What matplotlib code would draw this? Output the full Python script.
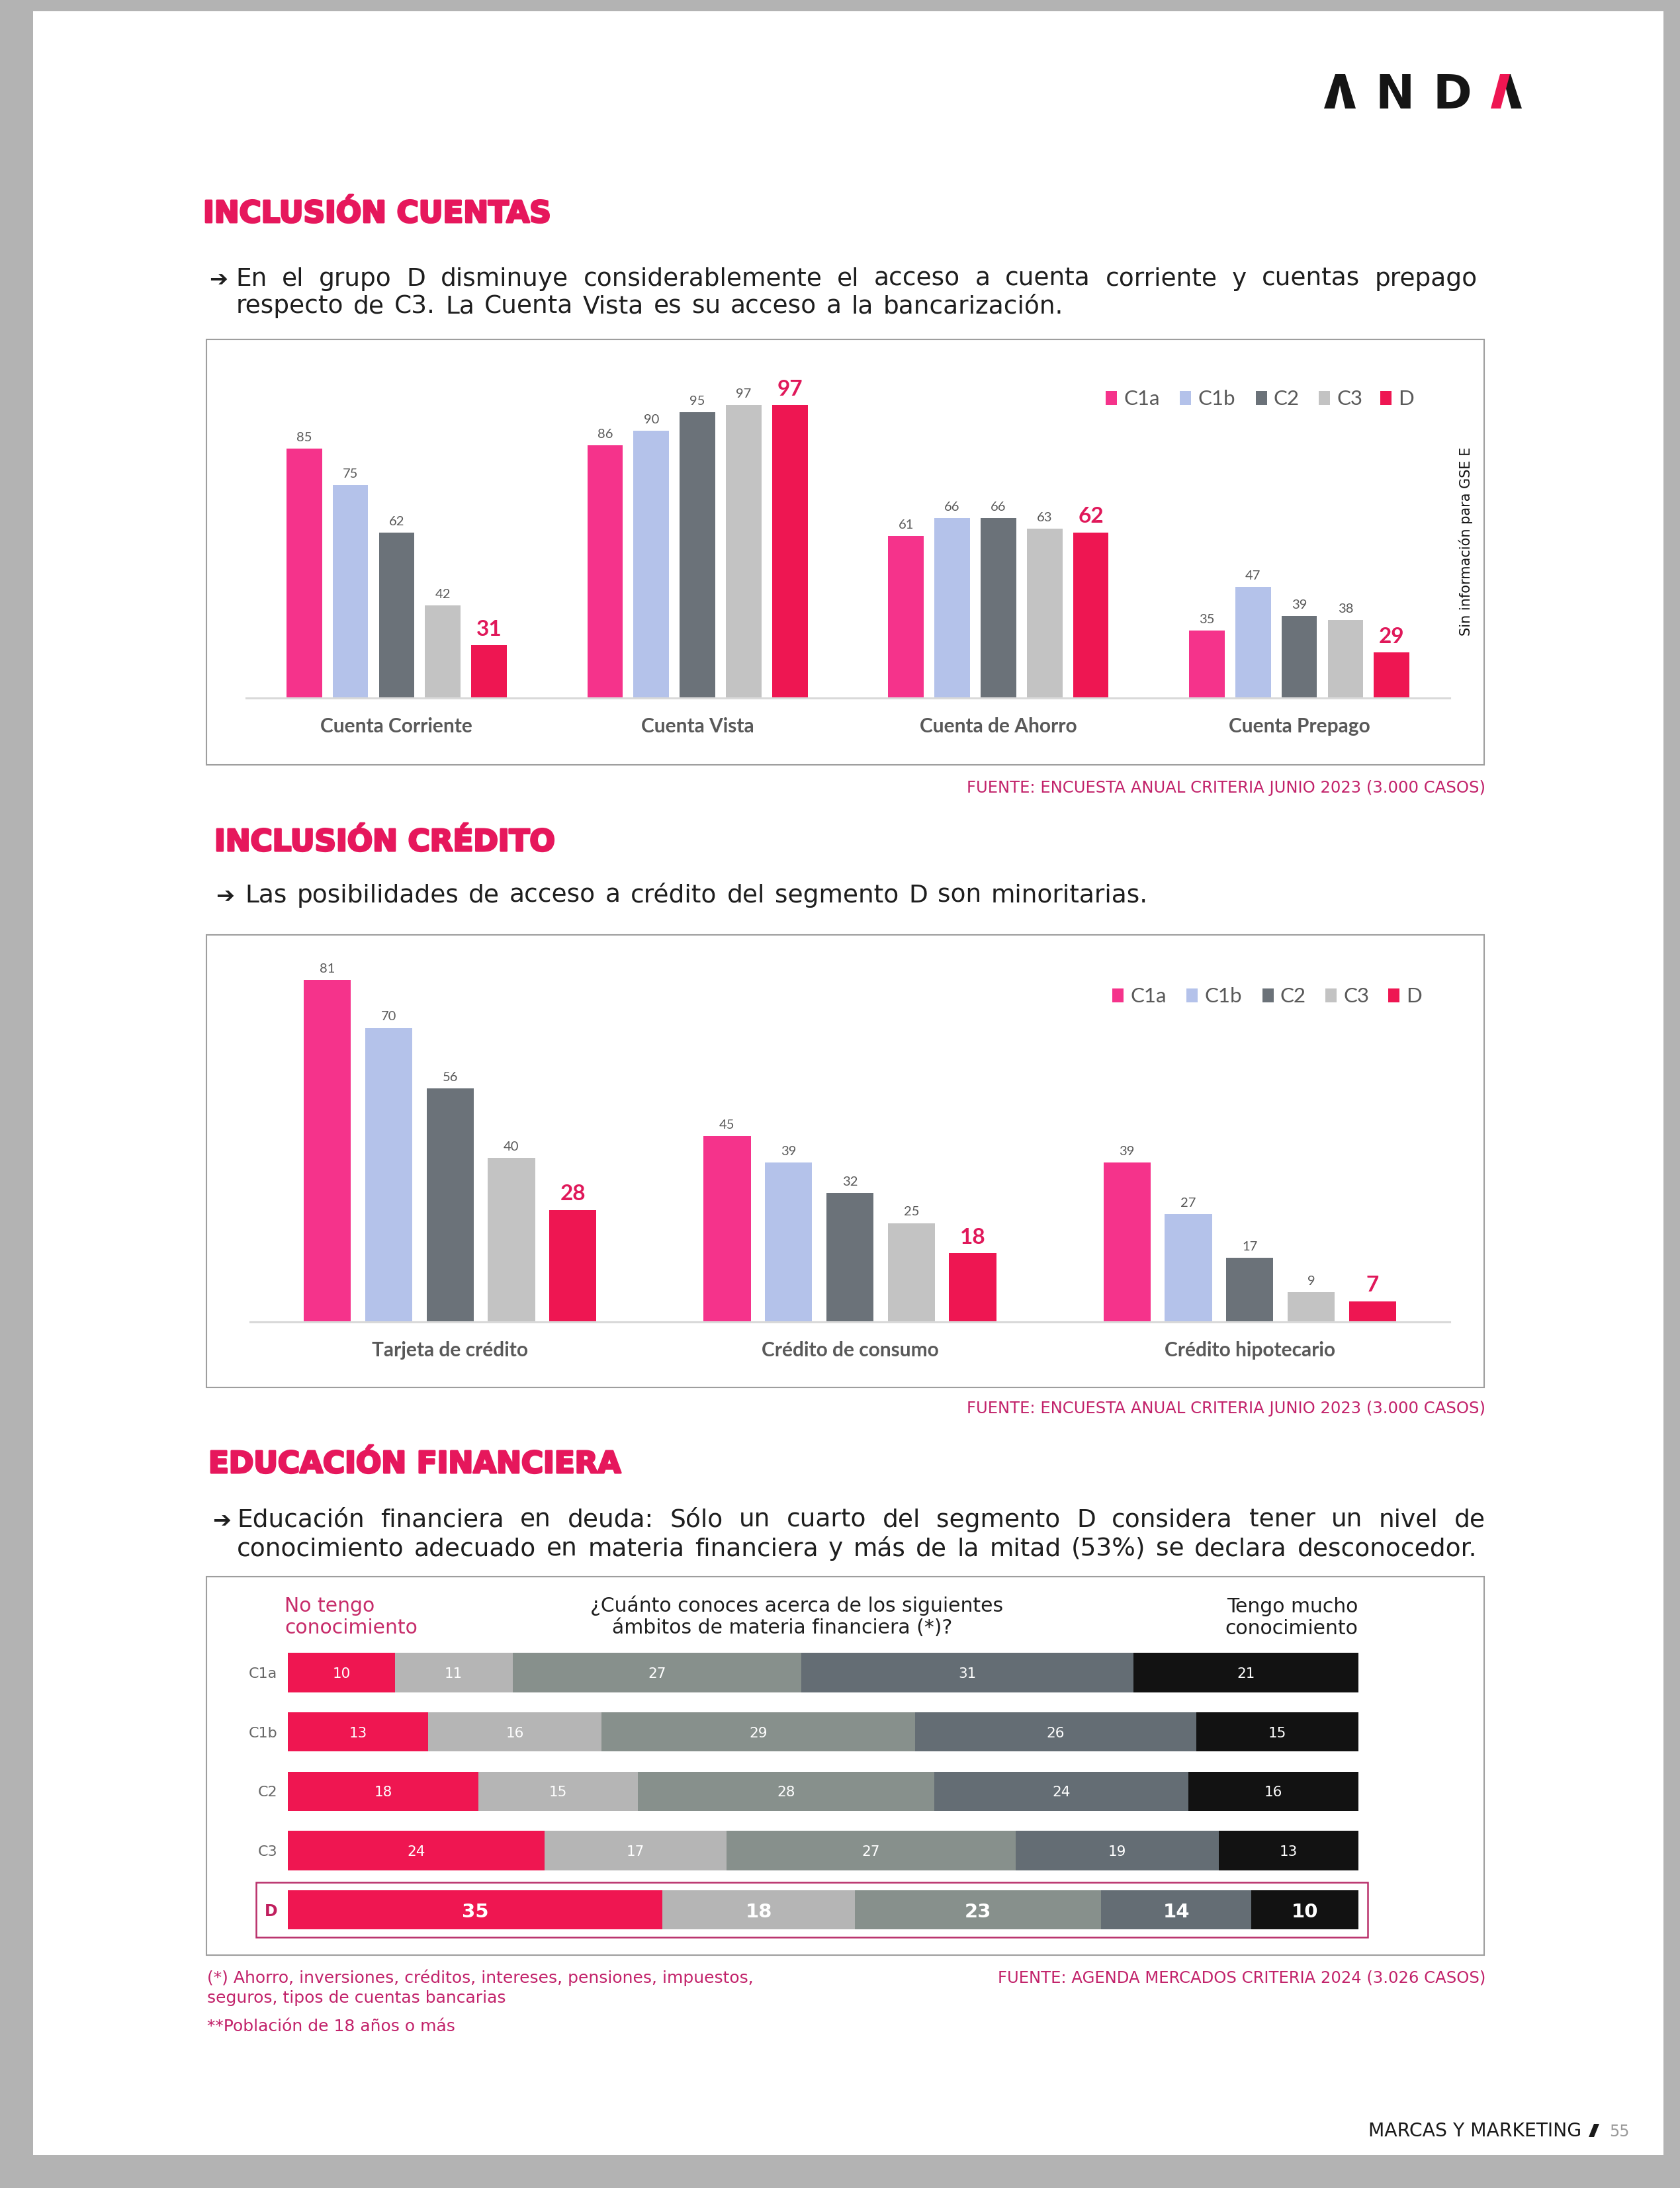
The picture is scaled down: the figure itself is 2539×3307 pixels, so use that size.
import matplotlib
matplotlib.use("Agg")
import matplotlib.pyplot as plt
from matplotlib.patches import Rectangle, Polygon
from matplotlib.transforms import blended_transform_factory
import matplotlib.patheffects as pe
import numpy as np

# ---------------- data ----------------
groups = ["C1a", "C1b", "C2", "C3", "D"]

acct_categories = ["Cuenta Corriente", "Cuenta Vista", "Cuenta de Ahorro", "Cuenta Prepago"]
acct_c1a = [85, 86, 61, 35]
acct_c1b = [75, 90, 66, 47]
acct_c2 = [62, 95, 66, 39]
acct_c3 = [42, 97, 63, 38]
acct_d = [31, 97, 62, 29]

credit_categories = ["Tarjeta de crédito", "Crédito de consumo", "Crédito hipotecario"]
credit_c1a = [81, 45, 39]
credit_c1b = [70, 39, 27]
credit_c2 = [56, 32, 17]
credit_c3 = [40, 25, 9]
credit_d = [28, 18, 7]

edu_rows = ["C1a", "C1b", "C2", "C3", "D"]
edu_lvl1 = [10, 13, 18, 24, 35]   # No tengo conocimiento
edu_lvl2 = [11, 16, 15, 17, 18]
edu_lvl3 = [27, 29, 28, 27, 23]
edu_lvl4 = [31, 26, 24, 19, 14]
edu_lvl5 = [21, 15, 16, 13, 10]   # Tengo mucho conocimiento

# ---------------- style ----------------
W, H, DPI = 2539, 3307, 100
PINK_T = "#E6175C"
PINK_S = "#C2226A"
bar_colors = ["#F5338B", "#B4C2EA", "#6B7279", "#C3C3C3", "#EE1652"]
seg_colors = ["#EF1651", "#B5B5B5", "#87908C", "#646D74", "#121212"]
CHART_FONT = "Lato"
PAGE_FONT = "DejaVu Sans"

fig = plt.figure(figsize=(W / DPI, H / DPI), dpi=DPI, facecolor="#b3b3b3")
bg = fig.add_axes([0, 0, 1, 1], zorder=0)
bg.set_xlim(0, W)
bg.set_ylim(H, 0)
bg.axis("off")
bg.add_patch(Rectangle((50, 17), 2464, 3240, facecolor="white", edgecolor="none"))
renderer = fig.canvas.get_renderer()


def px_axes(x0, y0, x1, y1):
    ax = fig.add_axes([x0 / W, 1 - y1 / H, (x1 - x0) / W, (y1 - y0) / H], zorder=2)
    ax.patch.set_alpha(0)
    return ax


def justify(text, x0, x1, y, **kw):
    words = text.split(" ")
    objs = [bg.text(x0, y, w, ha="left", va="baseline", **kw) for w in words]
    widths = [o.get_window_extent(renderer).width for o in objs]
    gap = (x1 - x0 - sum(widths)) / max(len(words) - 1, 1)
    x = x0
    for o, wd in zip(objs, widths):
        o.set_x(x)
        x += wd + gap


# ---------------- logo ----------------
bg.add_patch(Polygon([(2001, 164), (2018, 112), (2033, 112), (2049, 164), (2033, 164),
                      (2025, 129), (2017, 164)], closed=True, color="#151515", lw=0))
bg.text(2108, 164, "N", ha="center", va="baseline", fontsize=51, fontweight="bold",
        family=PAGE_FONT, color="#151515")
bg.text(2195, 164, "D", ha="center", va="baseline", fontsize=51, fontweight="bold",
        family=PAGE_FONT, color="#151515")
bg.add_patch(Polygon([(2270, 112), (2283, 112), (2300, 164), (2284, 164)], closed=True,
                     color="#151515", lw=0))
bg.add_patch(Polygon([(2253, 164), (2268, 164), (2282, 112), (2267, 112)], closed=True,
                     color="#EE1652", lw=0))

# ---------------- titles & bullets ----------------
tkw = dict(fontsize=32.5, fontweight="bold", family=PAGE_FONT, color=PINK_T, va="baseline",
           path_effects=[pe.withStroke(linewidth=2.2, foreground=PINK_T)])
bg.text(307, 336, "INCLUSIÓN CUENTAS", **tkw)
bg.text(324, 1286, "INCLUSIÓN CRÉDITO", **tkw)
bg.text(315, 2226, "EDUCACIÓN FINANCIERA", **tkw)

bkw = dict(fontsize=27, family=PAGE_FONT, color="#1e1e1e")
akw = dict(fontsize=24, family=["DejaVu Sans"], color="#1e1e1e", va="baseline")
bg.text(316, 432, "➔", **akw)
justify("En el grupo D disminuye considerablemente el acceso a cuenta corriente y cuentas prepago",
        356, 2233, 432, **bkw)
justify("respecto de C3. La Cuenta Vista es su acceso a la bancarización.", 357, 1607, 473, **bkw)
bg.text(326, 1364, "➔", **akw)
justify("Las posibilidades de acceso a crédito del segmento D son minoritarias.", 370, 1735, 1364, **bkw)
bg.text(321, 2308, "➔", **akw)
justify("Educación financiera en deuda: Sólo un cuarto del segmento D considera tener un nivel de",
        358, 2245, 2308, **bkw)
justify("conocimiento adecuado en materia financiera y más de la mitad (53%) se declara desconocedor.",
        358, 2232, 2351, **bkw)

# ---------------- boxes ----------------
for (y0, y1) in [(513, 1156), (1413, 2097), (2383, 2955)]:
    bg.add_patch(Rectangle((312, y0), 1931, y1 - y0, fill=False, edgecolor="#9e9e9e", lw=1.5))

skw = dict(fontsize=17.5, family=PAGE_FONT, color=PINK_S, va="baseline")
bg.text(2245, 1198, "FUENTE: ENCUESTA ANUAL CRITERIA JUNIO 2023 (3.000 CASOS)", ha="right", **skw)
bg.text(2245, 2136, "FUENTE: ENCUESTA ANUAL CRITERIA JUNIO 2023 (3.000 CASOS)", ha="right", **skw)
bg.text(2245, 2997, "FUENTE: AGENDA MERCADOS CRITERIA 2024 (3.026 CASOS)", ha="right", **skw)
fkw = dict(fontsize=18, family=PAGE_FONT, color=PINK_S, va="baseline", ha="left")
bg.text(313, 2997, "(*) Ahorro, inversiones, créditos, intereses, pensiones, impuestos,", **fkw)
bg.text(313, 3027, "seguros, tipos de cuentas bancarias", **fkw)
bg.text(313, 3070, "**Población de 18 años o más", **fkw)


# ---------------- grouped bar charts ----------------
def grouped(ax, categories, series, ymin, ymax, label_base, leg_x, leg_y):
    x = np.arange(len(categories))
    pitch, bw = 0.1536, 0.118
    for j, (g, vals) in enumerate(zip(groups, series)):
        xs = x + (j - 2) * pitch
        ax.bar(xs, vals, width=bw, color=bar_colors[j], zorder=2)
        for xi, v in zip(xs, vals):
            if g == "D":
                ax.annotate(str(v), (xi, v), xytext=(0, 10.5), textcoords="offset points",
                            ha="center", va="baseline", fontsize=24, fontweight="bold",
                            color="#E0185A", family=CHART_FONT)
            else:
                ax.annotate(str(v), (xi, v), xytext=(0, 8), textcoords="offset points",
                            ha="center", va="baseline", fontsize=14.5,
                            color="#595959", family=CHART_FONT)
    ax.set_xlim(-0.5, len(categories) - 0.5)
    ax.set_ylim(ymin, ymax)
    for s in ["top", "left", "right"]:
        ax.spines[s].set_visible(False)
    ax.spines["bottom"].set_color("#d9d9d9")
    ax.spines["bottom"].set_linewidth(2.2)
    ax.set_xticks([])
    ax.set_yticks([])
    tr = blended_transform_factory(ax.transData, bg.transData)
    for i, c in enumerate(categories):
        ax.text(i, label_base, c, transform=tr, ha="center", va="baseline", fontsize=21.5,
                fontweight="bold", color="#595959", family=CHART_FONT)
    for j, (g, lx) in enumerate(zip(groups, leg_x)):
        bg.add_patch(Rectangle((lx, leg_y - 21), 17, 21, color=bar_colors[j], lw=0))
        bg.text(lx + 27, leg_y, g, ha="left", va="baseline", fontsize=22.5,
                color="#595959", family=CHART_FONT)


ax1 = px_axes(372, 560, 2191, 1055)
grouped(ax1, acct_categories, [acct_c1a, acct_c1b, acct_c2, acct_c3, acct_d],
        16.5, 16.5 + 495 / 5.5, 1107, [1671, 1783, 1898, 1993, 2086], 612)
bg.text(2215, 818, "Sin información para GSE E", rotation=90, ha="center", va="center",
        fontsize=15, family=PAGE_FONT, color="#111111")

ax2 = px_axes(378, 1430, 2191, 1998)
grouped(ax2, credit_categories, [credit_c1a, credit_c1b, credit_c2, credit_c3, credit_d],
        2.2, 2.2 + 568 / 6.555, 2050, [1681, 1793, 1908, 2003, 2098], 1515)

# ---------------- stacked bar chart ----------------
ax3 = px_axes(435, 2483.15, 2052.6, 2931.65)
data = np.array([edu_lvl1, edu_lvl2, edu_lvl3, edu_lvl4, edu_lvl5], dtype=float).T
shares = data / data.sum(axis=1, keepdims=True) * 100
ypos = np.arange(len(edu_rows))
left = np.zeros(len(edu_rows))
for k in range(data.shape[1]):
    ax3.barh(ypos, shares[:, k], left=left, height=0.66, color=seg_colors[k], zorder=2)
    for i, r in enumerate(edu_rows):
        isd = r == "D"
        ax3.text(left[i] + shares[i, k] / 2, i, str(int(data[i, k])), ha="center",
                 va="center_baseline", color="white", family=PAGE_FONT,
                 fontsize=21 if isd else 15.5, fontweight="bold" if isd else "normal", zorder=3)
    left += shares[:, k]
ax3.set_xlim(0, 100)
ax3.set_ylim(len(edu_rows) - 0.5, -0.5)
for s in ax3.spines.values():
    s.set_visible(False)
ax3.set_xticks([])
ax3.set_yticks(ypos)
ax3.set_yticklabels(edu_rows, family=PAGE_FONT, fontsize=16, color="#666666")
ax3.tick_params(axis="y", length=0, pad=11.5)
dlab = ax3.get_yticklabels()[-1]
dlab.set_color("#C01F5E")
dlab.set_fontweight("bold")
dlab.set_fontsize(17)
bg.add_patch(Rectangle((387, 2845), 1680, 83, fill=False, edgecolor="#B9306B", lw=1.8))

hkw = dict(fontsize=21.5, family=PAGE_FONT, va="baseline")
bg.text(430, 2436, "No tengo", ha="left", color="#C72C6A", **hkw)
bg.text(430, 2469, "conocimiento", ha="left", color="#C72C6A", **hkw)
bg.text(1204, 2436, "¿Cuánto conoces acerca de los siguientes", ha="center", color="#1e1e1e", **hkw)
bg.text(1182, 2469, "ámbitos de materia financiera (*)?", ha="center", color="#1e1e1e", **hkw)
bg.text(2052, 2437, "Tengo mucho", ha="right", color="#1e1e1e", **hkw)
bg.text(2052, 2470, "conocimiento", ha="right", color="#1e1e1e", **hkw)

# ---------------- footer ----------------
bg.text(2068, 3229, "MARCAS Y MARKETING", ha="left", va="baseline", fontsize=20.3,
        family=PAGE_FONT, color="#1a1a1a")
bg.add_patch(Polygon([(2401, 3230), (2409, 3230), (2417, 3210), (2409, 3210)], closed=True,
                     color="#1a1a1a", lw=0))
bg.text(2432, 3229, "55", ha="left", va="baseline", fontsize=17, family=PAGE_FONT,
        color="#9a9a9a")

fig.savefig("out.png", dpi=DPI, facecolor=fig.get_facecolor())
